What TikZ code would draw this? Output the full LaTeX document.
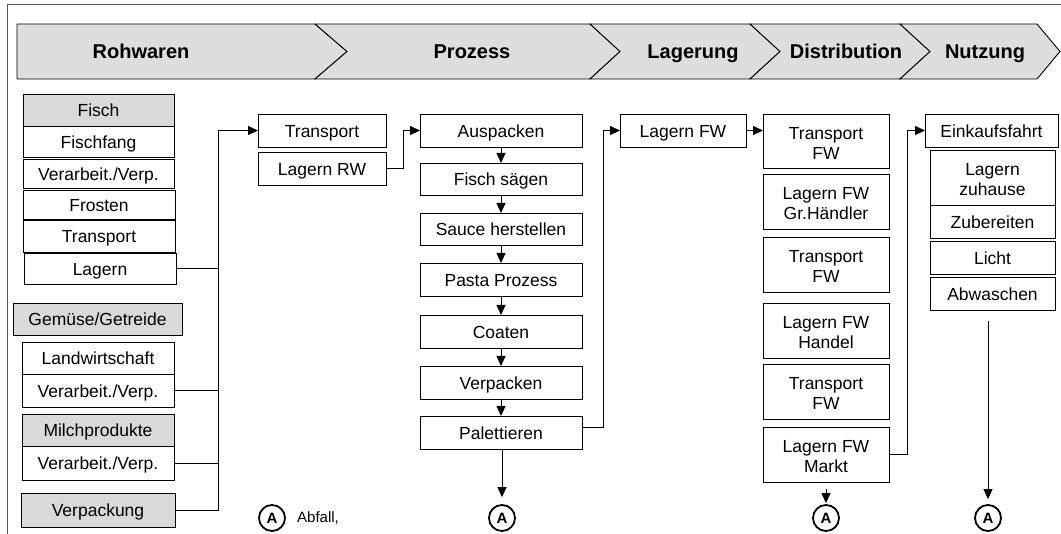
\documentclass[tikz,border=0pt]{standalone}
\usepackage{fontspec}
\setmainfont{Liberation Sans}
\usetikzlibrary{arrows.meta,calc}
\definecolor{bargray}{RGB}{221,221,221}
\definecolor{boxgray}{RGB}{217,217,217}
\definecolor{framegray}{RGB}{85,85,85}
\newcommand\boxfont{\fontsize{17.5}{20}\selectfont}
\newcommand\barfont{\fontsize{20}{24}\selectfont\bfseries}
\newcommand\bx[7]{\node[#1, minimum width={#4-#2}, minimum height={#5-#3}] (#6) at ({(#2+#4)/2},{(#3+#5)/2}) {#7};}
\tikzset{
  box/.style={draw, line width=0.9pt, inner sep=0pt, outer sep=0pt, font=\boxfont, align=center, text height=15pt, text depth=1pt},
  gbox/.style={box, fill=boxgray},
  twoline/.style={text height=36.5pt, text depth=0pt},
  barseg/.style={draw, line width=0.9pt, fill=bargray, line join=miter},
  barlabel/.style={font=\barfont, anchor=base, inner sep=0pt},
  conn/.style={line width=0.9pt},
  arr/.style={conn, -{Triangle[length=10pt,width=9pt]}},
  circA/.style={circle, draw, line width=1.8pt, minimum size=26pt, inner sep=0pt, font=\fontsize{15}{17}\selectfont\bfseries},
}
\begin{document}
\begin{tikzpicture}[x=1pt,y=-1pt]
\useasboundingbox (0,0) rectangle (1061,534);
% frame
\draw[framegray, line width=1pt] (7,534) -- (7,5) -- (1061,5);
% chevron bar
\draw[barseg] (17,24) -- (315,24) -- (347,51.5) -- (315,79) -- (17,79) -- cycle;
\draw[barseg] (315,24) -- (590,24) -- (620,51.5) -- (590,79) -- (315,79) -- (347,51.5) -- cycle;
\draw[barseg] (590,24) -- (750,24) -- (780,51.5) -- (750,79) -- (590,79) -- (620,51.5) -- cycle;
\draw[barseg] (750,24) -- (900,24) -- (930,51.5) -- (900,79) -- (750,79) -- (780,51.5) -- cycle;
\draw[barseg] (900,24) -- (1037,24) -- (1060,51.5) -- (1037,79) -- (900,79) -- (930,51.5) -- cycle;
\node[barlabel] (hRoh) at (141,58.5) {Rohwaren};
\node[barlabel] (hPro) at (472,58.5) {Prozess};
\node[barlabel] (hLag) at (693,58.5) {Lagerung};
\node[barlabel] (hDis) at (846,58.5) {Distribution};
\node[barlabel] (hNut) at (985,58.5) {Nutzung};
% left column
\bx{gbox}{23}{94}{174}{126}{fisch}{Fisch}
\bx{box}{23}{126}{174}{157}{fang}{Fischfang}
\bx{box}{23}{159}{174}{188}{verpA}{Verarbeit./Verp.}
\bx{box}{23}{190}{175}{219}{frosten}{Frosten}
\bx{box}{23}{220}{175}{252}{transp0}{Transport}
\bx{box}{24}{253}{176}{284}{lagern}{Lagern}
\bx{gbox}{13}{303}{182}{335}{gemuese}{Gemüse/Getreide}
\bx{box}{22}{342}{174}{374}{landw}{Landwirtschaft}
\bx{box}{22}{374}{174}{407}{verpB}{Verarbeit./Verp.}
\bx{gbox}{22}{414}{174}{446}{milch}{Milchprodukte}
\bx{box}{22}{446}{174}{480}{verpC}{Verarbeit./Verp.}
\bx{gbox}{21}{493}{175}{527}{verpackung}{Verpackung}
% raw material transport
\bx{box}{258}{114}{386}{147}{transport}{Transport}
\bx{box}{258}{152}{386}{185}{lagernrw}{Lagern RW}
% process column
\bx{box}{420}{114}{582}{147}{auspacken}{Auspacken}
\bx{box}{420}{163}{582}{195}{saegen}{Fisch sägen}
\bx{box}{420}{213}{582}{245}{sauce}{Sauce herstellen}
\bx{box}{420}{263}{582}{296}{pasta}{Pasta Prozess}
\bx{box}{420}{315}{582}{348}{coaten}{Coaten}
\bx{box}{420}{366}{582}{399}{verpacken}{Verpacken}
\bx{box}{420}{416}{582}{449}{palett}{Palettieren}
% storage
\bx{box}{620}{114}{746}{147}{lagernfw}{Lagern FW}
% distribution
\bx{box,twoline}{763}{114}{889}{168}{tfwA}{Transport\\FW}
\bx{box,twoline}{763}{174}{889}{229}{lgh}{Lagern FW\\Gr.Händler}
\bx{box,twoline}{763}{237}{889}{292}{tfwB}{Transport\\FW}
\bx{box,twoline}{763}{303}{889}{358}{lfh}{Lagern FW\\Handel}
\bx{box,twoline}{763}{364}{889}{419}{tfwC}{Transport\\FW}
\bx{box,twoline}{763}{427}{889}{482}{markt}{Lagern FW\\Markt}
% use
\bx{box}{925}{114}{1058}{147}{einkauf}{Einkaufsfahrt}
\bx{box,twoline}{930}{150}{1055}{205}{zuhause}{Lagern\\zuhause}
\bx{box}{930}{205}{1055}{238}{zubereiten}{Zubereiten}
\bx{box}{930}{241}{1055}{274}{licht}{Licht}
\bx{box}{930}{277}{1055}{310}{abwaschen}{Abwaschen}
% waste circles
\node[circA] (a0) at (272,518) {A};
\node[font=\fontsize{15}{18}\selectfont, anchor=base west, inner sep=0pt] (abfall) at (297,522) {Abfall,};
\node[circA] (a1) at (502,518) {A};
\node[circA] (a2) at (826,518) {A};
\node[circA] (a3) at (988,518) {A};
% connectors raw materials
\coordinate (busA) at (218,0);
\draw[conn] (lagern.east) -- (lagern.east -| busA);
\draw[conn] (verpB.east) -- (verpB.east -| busA);
\draw[conn] (verpC.east) -- (verpC.east -| busA);
\draw[arr] (verpackung.east) -| (busA |- transport.west) -- (transport.west);
\coordinate (busB) at (403,0);
\draw[arr] (lagernrw.east) -| (busB |- auspacken.west) -- (auspacken.west);
% process chain
\draw[arr] (auspacken) -- (saegen);
\draw[arr] (saegen) -- (sauce);
\draw[arr] (sauce) -- (pasta);
\draw[arr] (pasta) -- (coaten);
\draw[arr] (coaten) -- (verpacken);
\draw[arr] (verpacken) -- (palett);
\draw[arr, shorten >=7pt] (palett.south -| a1) -- (a1.north);
\coordinate (busC) at (603,0);
\draw[arr] ($(palett.east)+(0,-5)$) -| (busC |- lagernfw.west) -- (lagernfw.west);
\draw[arr] (lagernfw.east) -- (lagernfw.east -| tfwA.west);
\coordinate (busD) at (907,0);
\draw[arr] (markt.east) -| (busD |- einkauf.west) -- (einkauf.west);
\draw[arr, shorten >=1pt] ($(markt.south)+(0,7)$) -- (a2.north);
\draw[arr, shorten >=5pt] ($(abwaschen.south -| a3)+(0,11)$) -- (a3.north);
\end{tikzpicture}
\end{document}
